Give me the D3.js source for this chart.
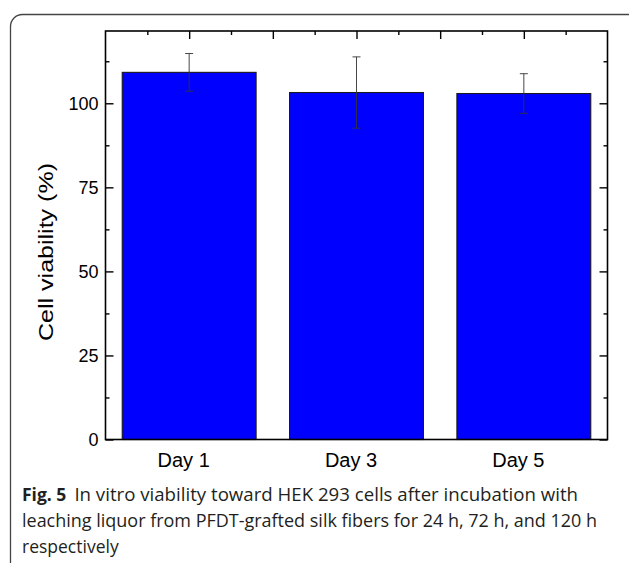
<!DOCTYPE html>
<html>
<head>
<meta charset="utf-8">
<script src="https://cdn.jsdelivr.net/npm/d3@7"></script>
<style>
    html, body { margin: 0; padding: 0; background: #fff; }
    svg { display: block; }
    .axis text { font-family: "Liberation Sans", Arial, sans-serif; fill: #000; }
    .caption { font-family: "Open Sans", "Noto Sans", sans-serif; fill: #231f20; }
</style>
</head>
<body>
<div id="chart"></div>
<script>
// data
const days = ['Day 1', 'Day 3', 'Day 5'];
const dayPos = [1, 3, 5];
const viability = [109.2, 103.2, 102.9];
const errors = [5.6, 10.6, 5.9];
const yMajor = [0, 25, 50, 75, 100];
const yMinor = [12.5, 37.5, 62.5, 87.5, 112.5];
const xMajor = [1, 2, 3, 4, 5];
const xMinor = [0.5, 1.5, 2.5, 3.5, 4.5, 5.5];
const captionLines = [
    'In vitro viability toward HEK 293 cells after incubation with',
    'leaching liquor from PFDT-grafted silk fibers for 24 h, 72 h, and 120 h',
    'respectively',
];

const W = 629, H = 563;
const margin = { top: 31, right: 21.5, bottom: 123.5, left: 105.5 };
const width = W - margin.left - margin.right;
const height = H - margin.top - margin.bottom;

const svg = d3.select('#chart').append('svg')
    .attr('width', W)
    .attr('height', H);

// outer rounded figure frame (runs off the right and bottom edge)
svg.append('rect')
    .attr('x', 10.5).attr('y', 14.5)
    .attr('width', 632).attr('height', 620)
    .attr('rx', 12)
    .attr('fill', 'none')
    .attr('stroke', '#444')
    .attr('stroke-width', 1.3);

const main = svg.append('g')
    .attr('transform', `translate(${margin.left},${margin.top})`);

const x = d3.scaleLinear().domain([0, 6]).range([0, width]);
const y = d3.scaleLinear().domain([0, 121.5]).range([height, 0]);

const barW = x(1.6) - x(0);

// bars
main.selectAll('.bar')
    .data(viability)
    .join('rect')
    .attr('class', 'bar')
    .attr('x', (d, i) => x(dayPos[i]) - barW / 2)
    .attr('width', barW)
    .attr('y', d => y(d))
    .attr('height', d => y(0) - y(d))
    .attr('fill', '#0000ff')
    .attr('stroke', '#1a1a1a')
    .attr('stroke-width', 1.1);

// error bars
const err = main.selectAll('.err')
    .data(viability)
    .join('g')
    .attr('class', 'err')
    .attr('stroke', '#333')
    .attr('stroke-width', 0.9);
err.append('line')
    .attr('x1', (d, i) => x(dayPos[i])).attr('x2', (d, i) => x(dayPos[i]))
    .attr('y1', (d, i) => y(d + errors[i])).attr('y2', (d, i) => y(d - errors[i]));
err.append('line')
    .attr('x1', (d, i) => x(dayPos[i]) - 4).attr('x2', (d, i) => x(dayPos[i]) + 4)
    .attr('y1', (d, i) => y(d + errors[i])).attr('y2', (d, i) => y(d + errors[i]));
err.append('line')
    .attr('x1', (d, i) => x(dayPos[i]) - 4).attr('x2', (d, i) => x(dayPos[i]) + 4)
    .attr('y1', (d, i) => y(d - errors[i])).attr('y2', (d, i) => y(d - errors[i]));

// axes, ticks pointing inward
const cleanup = g => {
    g.select('.domain').remove();
    g.selectAll('line').attr('stroke', '#000').attr('stroke-width', 1.4);
};

main.append('g').attr('class', 'axis')
    .call(d3.axisLeft(y).tickValues(yMajor).tickSize(-8).tickPadding(7))
    .call(cleanup)
    .selectAll('text').attr('font-size', 18);
main.append('g').attr('class', 'axis')
    .call(d3.axisLeft(y).tickValues(yMinor).tickSize(-4).tickFormat(''))
    .call(cleanup);

main.append('g').attr('class', 'axis')
    .attr('transform', `translate(${width},0)`)
    .call(d3.axisRight(y).tickValues(yMajor).tickSize(-8).tickFormat(''))
    .call(cleanup);
main.append('g').attr('class', 'axis')
    .attr('transform', `translate(${width},0)`)
    .call(d3.axisRight(y).tickValues(yMinor).tickSize(-4).tickFormat(''))
    .call(cleanup);

main.append('g').attr('class', 'axis')
    .call(d3.axisTop(x).tickValues(xMajor).tickSize(-8).tickFormat(''))
    .call(cleanup);
main.append('g').attr('class', 'axis')
    .call(d3.axisTop(x).tickValues(xMinor).tickSize(-4).tickFormat(''))
    .call(cleanup);

main.append('g').attr('class', 'axis')
    .attr('transform', `translate(0,${height})`)
    .call(d3.axisBottom(x).tickValues(dayPos).tickSize(0).tickPadding(13)
        .tickFormat((d, i) => days[i]))
    .call(cleanup)
    .selectAll('text')
    .attr('font-size', 20)
    .attr('dx', -6);

// plot frame
main.append('rect')
    .attr('width', width).attr('height', height)
    .attr('fill', 'none')
    .attr('stroke', '#000')
    .attr('stroke-width', 1.6);

// y title
svg.append('text')
    .attr('class', 'axis')
    .attr('transform', 'translate(53,252) rotate(-90)')
    .attr('text-anchor', 'middle')
    .attr('font-family', '"Liberation Sans", Arial, sans-serif')
    .attr('font-size', 21)
    .attr('textLength', 178)
    .attr('lengthAdjust', 'spacingAndGlyphs')
    .text('Cell viability (%)');

// caption
const capX = 22, capSize = 17.5;
const lineEnds = [578, 597, null];
const baselines = [501, 527, 553];

const fig = svg.append('text')
    .attr('class', 'caption')
    .attr('x', capX).attr('y', baselines[0])
    .attr('font-size', capSize)
    .attr('font-weight', 'bold')
    .text('Fig. 5');
const restX = capX + fig.node().getComputedTextLength() + 8;

captionLines.forEach((line, i) => {
    const x0 = i === 0 ? restX : capX;
    const t = svg.append('text')
        .attr('class', 'caption')
        .attr('x', x0).attr('y', baselines[i])
        .attr('font-size', capSize)
        .text(line);
    if (lineEnds[i]) {
        t.attr('textLength', lineEnds[i] - x0)
            .attr('lengthAdjust', 'spacingAndGlyphs');
    }
});
</script>
</body>
</html>
